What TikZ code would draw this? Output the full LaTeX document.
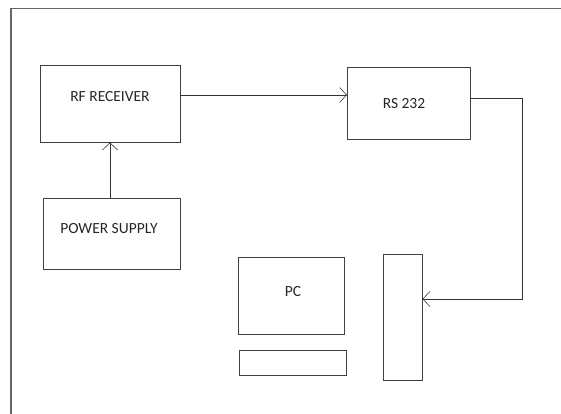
\documentclass[tikz,border=0pt]{standalone}
\usepackage{fontspec}
\setmainfont{Carlito}
\usetikzlibrary{arrows.meta, positioning}

\begin{document}
\begin{tikzpicture}[
  x=1pt, y=-1pt,
  every node/.style={font=\fontsize{15.5}{18}\selectfont, text=black!85},
  blk/.style={rectangle, draw=black!75, line width=0.9pt, inner sep=0pt},
  lbl/.style={inner sep=0pt},
  frame/.style={draw=black!60, line width=1.1pt},
  arr/.style={-{Straight Barb[length=7pt, width=15pt, line width=0.6pt]},
              line width=0.9pt, black!80}
]
  \useasboundingbox (0,0) rectangle (561,414);

  % page edge
  \draw[frame] (561,8.5) -- (11,8.5) -- (11,414);

  % top row
  \node[blk, minimum width=140, minimum height=77] (rf) at (110,103.5) {};
  \node[lbl] (rftxt) at (110,97) {RF RECEIVER};
  \node[blk, minimum width=123, minimum height=72] (rs) at (408.5,103) {};
  \node[lbl] (rstxt) at (404,104) {RS 232};

  % supply under the receiver
  \node[blk, minimum width=137, minimum height=71] (psu) at (111.5,233.5) {};
  \node[lbl] (psutxt) at (109,229) {POWER SUPPLY};

  % computer, keyboard and port
  \node[blk, minimum width=106, minimum height=77] (pc) at (291,295.5) {};
  \node[lbl] (pctxt) at (293,292) {PC};
  \node[blk, minimum width=107, minimum height=25] (kbd) at (292.5,362.5) {};
  \node[blk, minimum width=39, minimum height=126] (dock) at (402.5,317) {};

  % Arrows
  \coordinate (rsin) at (347,95);
  \draw[arr] (rf.east |- rsin) -- (rsin);
  \draw[arr] (psu.north -| 110,0) -- (rf.south -| 110,0);
  \draw[arr] ([yshift=5pt]rs.east) -- ++(52,0) |- ([yshift=18pt]dock.east);
\end{tikzpicture}
\end{document}
